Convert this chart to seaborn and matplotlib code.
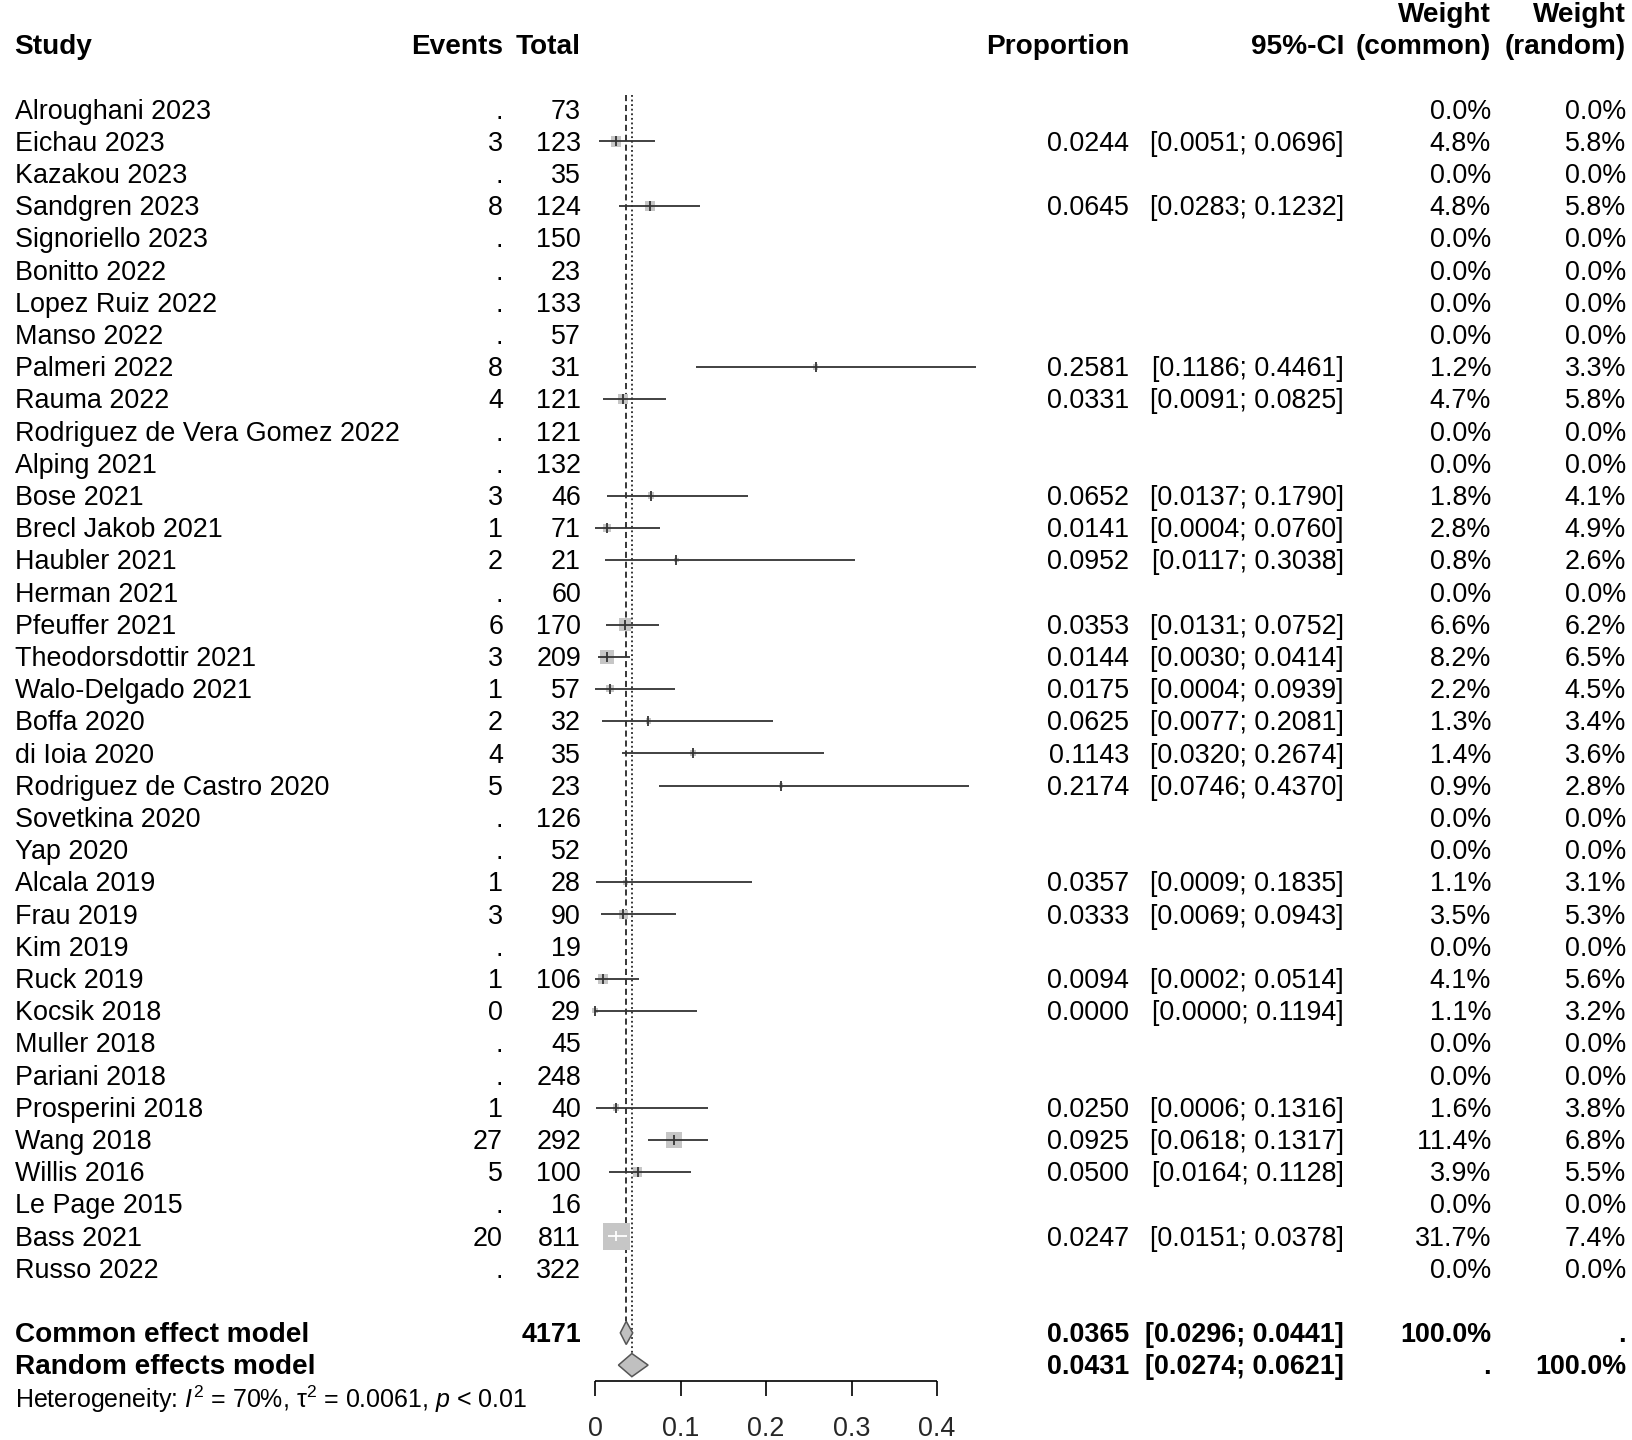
import matplotlib
matplotlib.use("Agg")
import matplotlib.pyplot as plt
import seaborn as sns
import numpy as np
import pandas as pd
from matplotlib.patches import Polygon

# ---------------- data ----------------
studies = ["Alroughani 2023", "Eichau 2023", "Kazakou 2023", "Sandgren 2023", "Signoriello 2023",
           "Bonitto 2022", "Lopez Ruiz 2022", "Manso 2022", "Palmeri 2022", "Rauma 2022",
           "Rodriguez de Vera Gomez 2022", "Alping 2021", "Bose 2021", "Brecl Jakob 2021",
           "Haubler 2021", "Herman 2021", "Pfeuffer 2021", "Theodorsdottir 2021",
           "Walo-Delgado 2021", "Boffa 2020", "di Ioia 2020", "Rodriguez de Castro 2020",
           "Sovetkina 2020", "Yap 2020", "Alcala 2019", "Frau 2019", "Kim 2019", "Ruck 2019",
           "Kocsik 2018", "Muller 2018", "Pariani 2018", "Prosperini 2018", "Wang 2018",
           "Willis 2016", "Le Page 2015", "Bass 2021", "Russo 2022"]
events = [None, 3, None, 8, None, None, None, None, 8, 4, None, None, 3, 1, 2, None, 6, 3, 1,
          2, 4, 5, None, None, 1, 3, None, 1, 0, None, None, 1, 27, 5, None, 20, None]
totals = [73, 123, 35, 124, 150, 23, 133, 57, 31, 121, 121, 132, 46, 71, 21, 60, 170, 209, 57,
          32, 35, 23, 126, 52, 28, 90, 19, 106, 29, 45, 248, 40, 292, 100, 16, 811, 322]
proportion = [None, 0.0244, None, 0.0645, None, None, None, None, 0.2581, 0.0331, None, None,
              0.0652, 0.0141, 0.0952, None, 0.0353, 0.0144, 0.0175, 0.0625, 0.1143, 0.2174,
              None, None, 0.0357, 0.0333, None, 0.0094, 0.0000, None, None, 0.0250, 0.0925,
              0.0500, None, 0.0247, None]
ci_low = [None, 0.0051, None, 0.0283, None, None, None, None, 0.1186, 0.0091, None, None,
          0.0137, 0.0004, 0.0117, None, 0.0131, 0.0030, 0.0004, 0.0077, 0.0320, 0.0746,
          None, None, 0.0009, 0.0069, None, 0.0002, 0.0000, None, None, 0.0006, 0.0618,
          0.0164, None, 0.0151, None]
ci_high = [None, 0.0696, None, 0.1232, None, None, None, None, 0.4461, 0.0825, None, None,
           0.1790, 0.0760, 0.3038, None, 0.0752, 0.0414, 0.0939, 0.2081, 0.2674, 0.4370,
           None, None, 0.1835, 0.0943, None, 0.0514, 0.1194, None, None, 0.1316, 0.1317,
           0.1128, None, 0.0378, None]
w_common = [0.0, 4.8, 0.0, 4.8, 0.0, 0.0, 0.0, 0.0, 1.2, 4.7, 0.0, 0.0, 1.8, 2.8, 0.8, 0.0,
            6.6, 8.2, 2.2, 1.3, 1.4, 0.9, 0.0, 0.0, 1.1, 3.5, 0.0, 4.1, 1.1, 0.0, 0.0, 1.6,
            11.4, 3.9, 0.0, 31.7, 0.0]
w_random = [0.0, 5.8, 0.0, 5.8, 0.0, 0.0, 0.0, 0.0, 3.3, 5.8, 0.0, 0.0, 4.1, 4.9, 2.6, 0.0,
            6.2, 6.5, 4.5, 3.4, 3.6, 2.8, 0.0, 0.0, 3.1, 5.3, 0.0, 5.6, 3.2, 0.0, 0.0, 3.8,
            6.8, 5.5, 0.0, 7.4, 0.0]

common_est, common_lo, common_hi = 0.0365, 0.0296, 0.0441
random_est, random_lo, random_hi = 0.0431, 0.0274, 0.0621
total_n = 4171
xticks = [0, 0.1, 0.2, 0.3, 0.4]
xtick_labels = ["0", "0.1", "0.2", "0.3", "0.4"]
het_text = r"Heterogeneity: $\mathit{I}^2$ = 70%, $\mathrm{τ}^2$ = 0.0061, $\mathit{p}$ < 0.01"

# ---------------- style ----------------
sns.set_theme(style="white")
plt.rcParams['font.family'] = ['Liberation Sans', 'DejaVu Sans']
plt.rcParams['mathtext.fontset'] = 'custom'
plt.rcParams['mathtext.rm'] = 'Liberation Sans'
plt.rcParams['mathtext.it'] = 'Liberation Sans:italic'
plt.rcParams['mathtext.bf'] = 'Liberation Sans:bold'
plt.rcParams['mathtext.sf'] = 'Liberation Sans'

W, H = 1632, 1440
FS = 19.4     # regular text
FSB = 20.2    # bold words
FSBN = 19.4   # bold numbers
fig = plt.figure(figsize=(W / 100, H / 100), dpi=100)
ax = fig.add_axes([0, 0, 1, 1])
ax.axis('off')

x0px, pxunit = 595.0, 855.0
ax.set_xlim(-x0px / pxunit, (W - x0px) / pxunit)
row0px, rowpx = 109.3, 32.2
ax.set_ylim((H - row0px) / rowpx, -row0px / rowpx)

tr = ax.get_yaxis_transform()
TOFF = 0.07  # small vertical text offset (rows)


def tx(px, row, s, ha="right", bold=False, size=None):
    if size is None:
        size = FSB if bold else FS
    ax.text(px / W, row + TOFF, s, transform=tr, ha=ha, va="center", fontsize=size,
            fontweight="bold" if bold else "normal", color="black")


# columns (pixel anchors)
X_STUDY, X_EVENTS, X_TOTAL, X_PROP, X_CI, X_WC, X_WR = 14.6, 503, 581, 1129, 1344, 1491, 1626

# header
tx(X_STUDY, -2, "Study", ha="left", bold=True)
tx(X_EVENTS, -2, "Events", bold=True)
tx(X_TOTAL, -2, "Total", bold=True)
tx(X_PROP, -2, "Proportion", bold=True)
tx(X_CI, -2, "95%-CI", bold=True)
tx(X_WC, -3, "Weight", bold=True)
tx(X_WC, -2, "(common)", bold=True)
tx(X_WR, -3, "Weight", bold=True)
tx(X_WR, -2, "(random)", bold=True)

n = len(studies)
rows = np.arange(n)
for i in range(n):
    tx(X_STUDY, i, studies[i], ha="left")
    tx(X_EVENTS, i, "." if events[i] is None else str(events[i]))
    tx(X_TOTAL, i, str(totals[i]))
    if proportion[i] is not None:
        tx(X_PROP, i, f"{proportion[i]:.4f}")
        tx(X_CI, i, f"[{ci_low[i]:.4f}; {ci_high[i]:.4f}]")
    tx(X_WC, i, f"{w_common[i]:.1f}%")
    tx(X_WR, i, f"{w_random[i]:.1f}%")

# summary rows
r_common, r_random, r_het = n + 1, n + 2, n + 3
tx(X_STUDY, r_common, "Common effect model", ha="left", bold=True)
tx(X_TOTAL, r_common, str(total_n), bold=True, size=FSBN)
tx(X_PROP, r_common, f"{common_est:.4f}", bold=True, size=FSBN)
tx(X_CI, r_common, f"[{common_lo:.4f}; {common_hi:.4f}]", bold=True, size=FSBN)
tx(X_WC, r_common, "100.0%", bold=True, size=FSBN)
tx(X_WR, r_common, ".", bold=True, size=FSBN)
tx(X_STUDY, r_random, "Random effects model", ha="left", bold=True)
tx(X_PROP, r_random, f"{random_est:.4f}", bold=True, size=FSBN)
tx(X_CI, r_random, f"[{random_lo:.4f}; {random_hi:.4f}]", bold=True, size=FSBN)
tx(X_WC, r_random, ".", bold=True, size=FSBN)
tx(X_WR, r_random, "100.0%", bold=True, size=FSBN)
tx(X_STUDY, r_het, het_text, ha="left", size=18)

# ---------------- forest marks ----------------
df = pd.DataFrame({"row": rows, "prop": proportion, "lo": ci_low, "hi": ci_high,
                   "w": w_common}).dropna()
SIDE_MAX = 27.0  # px side of square at max weight
wmax = max(w_common)
smax = (SIDE_MAX * 0.72) ** 2
sns.scatterplot(data=df, x="prop", y="row", size="w", sizes=(0, smax), size_norm=(0, wmax),
                marker="s", color="#C6C6C6", linewidth=0, legend=False, ax=ax, zorder=2)

for _, r in df.iterrows():
    half = SIDE_MAX * np.sqrt(r.w / wmax) / 2 / pxunit
    inside = (r.lo >= r.prop - half) and (r.hi <= r.prop + half)
    c = "white" if inside else "#333333"
    ax.hlines(r.row, r.lo, r.hi, color=c, lw=1.3, zorder=3)
    ax.plot([r.prop], [r.row], marker="|", ms=7.5, mew=1.3, color=c, zorder=4)

# reference lines
ax.vlines(common_est, -0.45, r_common - 0.36, colors="black", lw=1.1,
          linestyles=(0, (4, 2.5)), zorder=1)
ax.vlines(random_est, -0.45, r_random - 0.36, colors="black", lw=1.1,
          linestyles=(0, (1.2, 1.8)), zorder=1)

# diamonds
DH = 0.36
for est, lo, hi, rr in [(common_est, common_lo, common_hi, r_common),
                        (random_est, random_lo, random_hi, r_random)]:
    ax.add_patch(Polygon([(lo, rr), (est, rr - DH), (hi, rr), (est, rr + DH)],
                         closed=True, facecolor="#C0C0C0", edgecolor="#555555", lw=1.1, zorder=5))

# x axis
r_axis = n + 2.5
ax.hlines(r_axis, xticks[0], xticks[-1], colors="black", lw=1.2)
ax.vlines(xticks, r_axis, r_axis + 0.45, colors="black", lw=1.2)
for xv, lab in zip(xticks, xtick_labels):
    ax.text(xv, r_axis + 1.42 + TOFF, lab, ha="center", va="center", fontsize=FS)

fig.savefig("out.png", dpi=100)
